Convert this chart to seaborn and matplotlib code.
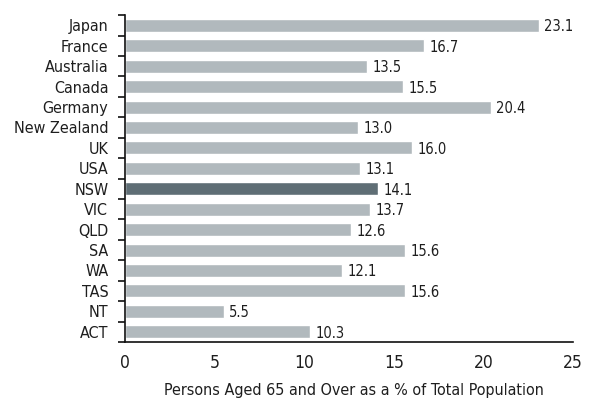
import matplotlib
matplotlib.use("Agg")
import matplotlib.pyplot as plt
import seaborn as sns
import pandas as pd
import numpy as np

regions = ["Japan", "France", "Australia", "Canada", "Germany", "New Zealand",
           "UK", "USA", "NSW", "VIC", "QLD", "SA", "WA", "TAS", "NT", "ACT"]
aged_pct = [23.1, 16.7, 13.5, 15.5, 20.4, 13.0, 16.0, 13.1, 14.1, 13.7,
            12.6, 15.6, 12.1, 15.6, 5.5, 10.3]
highlight = "NSW"
x_ticks = [0, 5, 10, 15, 20, 25]
x_label = "Persons Aged 65 and Over as a % of Total Population"

sns.set_theme(style="white")
plt.rcParams["font.family"] = ["DejaVu Sans"]
plt.rcParams["font.stretch"] = "condensed"

df = pd.DataFrame({"region": regions, "pct": aged_pct})
df["group"] = np.where(df["region"] == highlight, "hi", "base")
palette = {"base": "#b1b9bd", "hi": "#5f6e75"}
text_color = "#1e1e1e"

fig = plt.figure(figsize=(5.91, 3.99), dpi=100)
ax = fig.add_axes([0.2115, 0.143, 0.758, 0.819])

sns.barplot(data=df, y="region", x="pct", hue="group", palette=palette,
            dodge=False, legend=False, width=0.64, ax=ax, saturation=1,
            order=regions)

for i, v in enumerate(aged_pct):
    ax.annotate(f"{v:.1f}", xy=(v, i), xytext=(4, -1), textcoords="offset points",
                va="center", ha="left", fontsize=10.5, color=text_color,
                fontstretch="condensed")

ax.set_xlim(0, 25)
ax.set_ylim(len(regions) - 0.5, -0.5)
ax.set_xticks(x_ticks)
ax.set_xticklabels([str(t) for t in x_ticks], fontsize=12.5, color=text_color,
                   fontstretch="condensed")
ax.set_yticks(range(len(regions)))
ax.set_yticklabels(regions, fontsize=11.5, color=text_color, fontstretch="condensed")
ax.set_yticks(np.arange(-0.5, len(regions), 1.0), minor=True)
ax.tick_params(axis="y", which="major", left=False, length=0, pad=12)
ax.tick_params(axis="y", which="minor", left=True, length=5, width=1.2,
               color="#111111", direction="out")
ax.tick_params(axis="x", bottom=False, length=0, pad=9)
ax.set_xlabel(x_label, fontsize=11.5, color=text_color, fontstretch="condensed")
ax.xaxis.set_label_coords(0.511, -0.125)
ax.set_ylabel("")

for side in ["top", "right"]:
    ax.spines[side].set_visible(False)
for side in ["left", "bottom"]:
    ax.spines[side].set_color("#111111")
    ax.spines[side].set_linewidth(1.2)

fig.savefig("out.png", dpi=100)
